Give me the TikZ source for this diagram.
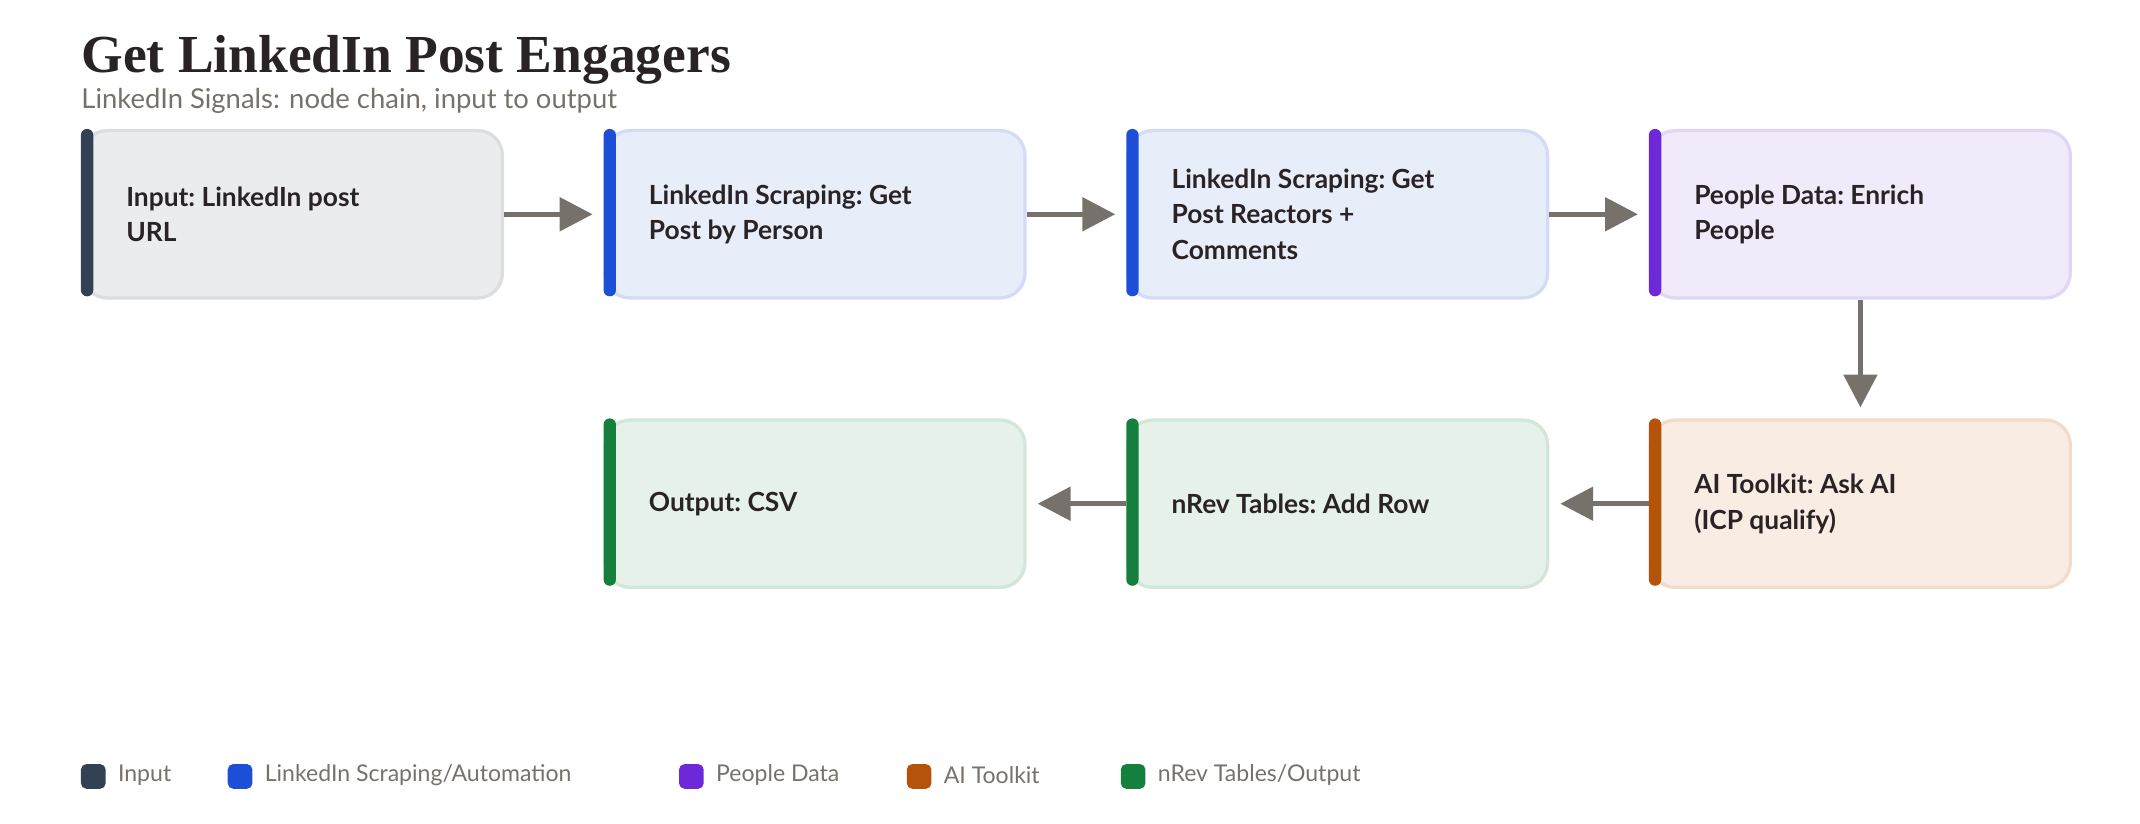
\documentclass[tikz,border=0pt]{standalone}
\usepackage{fontspec}
\setmainfont{Lato}
\newfontfamily\titlefont{Liberation Serif}
\usetikzlibrary{arrows.meta}
\definecolor{arr}{HTML}{77716B}
\definecolor{txt}{HTML}{2A2326}
\definecolor{sub}{HTML}{77716B}
\definecolor{cIn}{HTML}{334155}\definecolor{fIn}{HTML}{EBECEE}\definecolor{bIn}{HTML}{DCDDDF}
\definecolor{cLi}{HTML}{1D4ED8}\definecolor{fLi}{HTML}{E8EDFA}\definecolor{bLi}{HTML}{D3DCF6}
\definecolor{cPe}{HTML}{6D28D9}\definecolor{fPe}{HTML}{F0EAFA}\definecolor{bPe}{HTML}{E2D6F6}
\definecolor{cAi}{HTML}{B45309}\definecolor{fAi}{HTML}{F8ECE3}\definecolor{bAi}{HTML}{F1DCCB}
\definecolor{cGr}{HTML}{15803D}\definecolor{fGr}{HTML}{E6F1EA}\definecolor{bGr}{HTML}{D2E6D9}
\tikzset{
 box/.style n args={2}{draw=b#1, fill=f#1, line width=1.2pt, rounded corners=9pt,
   minimum width=153pt, minimum height=61pt, anchor=north west, inner sep=0pt},
 lbl/.style={anchor=west, align=left, font=\frenchspacing\bfseries\fontsize{9.6}{13}\selectfont, text=txt},
 flow/.style={draw=arr, line width=2pt, -{Triangle[length=12pt,width=12pt]}},
 leg/.style={anchor=west, font=\fontsize{8.4}{10}\selectfont, text=sub},
}
\newcommand\mkbox[5]{% name, key, x, y, text
  \node[box={#2}{}] (#1) at (#3,#4) {};
  \fill[c#2, rounded corners=2.2pt] (#3,#4) rectangle ++(9,-122);
  \node[lbl] (#1t) at ([xshift=13pt]#1.west) {#5};
}
\newcommand\legitem[4]{% name, key, x, text
  \fill[c#2, rounded corners=2pt] (#3,-557) rectangle ++(18,-18);
  \node[leg] (#1) at (#3+20,-565) {#4};
}
\begin{document}
\begin{tikzpicture}[x=0.5pt,y=0.5pt]
\useasboundingbox (0,0) rectangle (1560,-600);
\node[anchor=base west, inner sep=0pt, font=\titlefont\bfseries\fontsize{19.5}{20}\selectfont, text=txt] (title) at (59,-53) {Get LinkedIn Post Engagers};
\node[anchor=base west, inner sep=0pt, font=\fontsize{10}{12}\selectfont, text=sub] (subtitle) at (59,-79) {LinkedIn Signals: node chain, input to output};
\mkbox{n1}{In}{59}{-94}{Input: LinkedIn post\\URL}
\mkbox{n2}{Li}{440}{-94}{LinkedIn Scraping: Get\\Post by Person}
\mkbox{n3}{Li}{821}{-94}{LinkedIn Scraping: Get\\Post Reactors +\\Comments}
\mkbox{n4}{Pe}{1202}{-94}{People Data: Enrich\\People}
\mkbox{n5}{Ai}{1202}{-305}{AI Toolkit: Ask AI\\(ICP qualify)}
\mkbox{n6}{Gr}{821}{-305}{nRev Tables: Add Row}
\mkbox{n7}{Gr}{440}{-305}{Output: CSV}
\draw[flow] (n1.east) -- ([xshift=-4pt]n2.west);
\draw[flow] (n2.east) -- ([xshift=-4pt]n3.west);
\draw[flow] (n3.east) -- ([xshift=-4pt]n4.west);
\draw[flow] (n4.south) -- ([yshift=4pt]n5.north);
\draw[flow] (n5.west) -- ([xshift=4pt]n6.east);
\draw[flow] (n6.west) -- ([xshift=4pt]n7.east);
\legitem{l1}{In}{59}{Input}
\legitem{l2}{Li}{166}{LinkedIn Scraping/Automation}
\legitem{l3}{Pe}{495}{People Data}
\legitem{l4}{Ai}{661}{AI Toolkit}
\legitem{l5}{Gr}{817}{nRev Tables/Output}
\end{tikzpicture}
\end{document}
